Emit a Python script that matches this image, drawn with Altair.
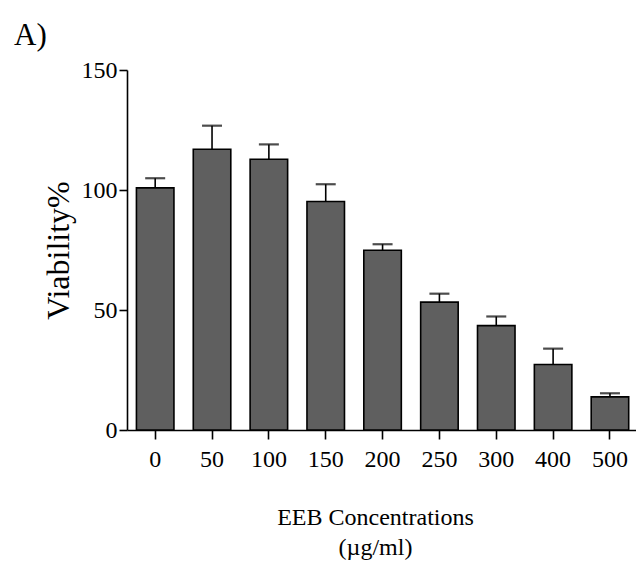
import altair as alt
import pandas as pd

# EEB concentration groups (µg/ml), mean viability (%) and upper error (SEM)
concentrations = ["0", "50", "100", "150", "200", "250", "300", "400", "500"]
viability = [100.9, 117.0, 112.8, 95.2, 74.9, 53.3, 43.5, 27.3, 13.8]
error = [4.0, 9.8, 6.2, 7.2, 2.5, 3.5, 3.8, 6.6, 1.5]

df = pd.DataFrame({
    "conc": concentrations,
    "viability": viability,
    "upper": [v + e for v, e in zip(viability, error)],
})

FONT = "Liberation Serif"

x_enc = alt.X(
    "conc:N",
    sort=concentrations,
    scale=alt.Scale(paddingInner=0.34, paddingOuter=0.147, align=0.564),
    axis=alt.Axis(
        title=["EEB Concentrations", "(µg/ml)"],
        labelAngle=0,
        labelFont=FONT,
        labelFontSize=24,
        labelPadding=8,
        tickSize=9,
        titleFont=FONT,
        titleFontSize=24,
        titleLineHeight=30,
        titleFontWeight="normal",
        titleX=248,
        titleY=75,
        titleBaseline="top",
    ),
)

y_scale = alt.Scale(domain=[0, 150], nice=False)
y_axis = alt.Axis(
    title="Viability%",
    values=[0, 50, 100, 150],
    labelFont=FONT,
    labelFontSize=24,
    labelPadding=2,
    tickSize=8,
    titleFont=FONT,
    titleFontSize=32,
    titleFontWeight="normal",
    titlePadding=6,
)

base = alt.Chart(df).encode(x=x_enc)

bars = base.mark_bar(color="#5f5f5f", stroke="black", strokeWidth=1.6).encode(
    y=alt.Y("viability:Q", scale=y_scale, axis=y_axis)
)

err_line = base.mark_rule(color="black", strokeWidth=1.6).encode(
    y="viability:Q", y2="upper:Q"
)

err_cap = base.mark_tick(color="black", size=20, thickness=2.2).encode(
    y="upper:Q"
)

panel = alt.Chart(pd.DataFrame({"label": ["A)"]})).mark_text(
    font=FONT, fontSize=31, align="left", baseline="alphabetic", color="black"
).encode(x=alt.value(-113), y=alt.value(-25), text="label:N")

chart = alt.layer(bars, err_line, err_cap, panel).properties(
    width=509,
    height=360,
    padding={"left": 127, "top": 70, "right": 0, "bottom": 137},
    autosize=alt.AutoSizeParams(type="none"),
).configure(
    font=FONT,
).configure_view(
    stroke=None
).configure_axis(
    grid=False,
    domainColor="black",
    domainWidth=1.6,
    tickColor="black",
    tickWidth=1.6,
    labelColor="black",
    titleColor="black",
)

chart.save("out.html", embed_options={"renderer": "svg", "actions": False})
